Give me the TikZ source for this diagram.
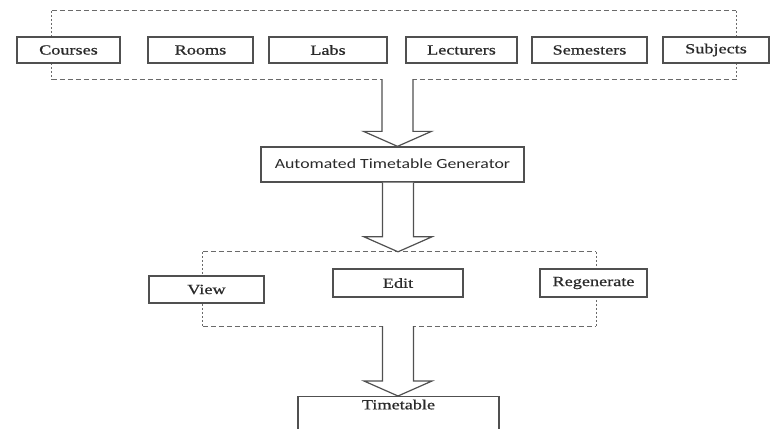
\documentclass[tikz,border=0pt]{standalone}
\usepackage{fontspec}
\setmainfont{Liberation Serif}[FakeBold=0.6]
\newfontfamily\sansf{Carlito}
\usetikzlibrary{calc}
\definecolor{edge}{HTML}{505050}
\definecolor{ink}{HTML}{2A2A2A}
\definecolor{dash}{HTML}{6A6A6A}
\newcommand\wide[1]{\scalebox{1.3}[1]{#1}}
\newcommand\blockarr[3]{%
  \draw[blockarrow] let \p1=(#1.south), \p2=(#2.north) in
    (\x2+#3pt-15.5pt,\y1) -- (\x2+#3pt-15.5pt,\y2+15pt) -- (\x2+#3pt-34pt,\y2+15pt)
    -- (\x2+#3pt,\y2) -- (\x2+#3pt+34pt,\y2+15pt) -- (\x2+#3pt+15.5pt,\y2+15pt)
    -- (\x2+#3pt+15.5pt,\y1);}
\tikzset{
  box/.style={draw=edge, line width=1.3pt, fill=white, inner sep=0pt, text=ink,
    font=\fontsize{14}{16}\selectfont},
  group/.style={draw=none, inner sep=0pt},
  dashh/.style={draw=dash, line width=1pt, dash pattern=on 5pt off 3pt},
  dashv/.style={draw=dash, line width=1pt, dash pattern=on 2pt off 2pt},
  blockarrow/.style={draw=edge, line width=1.2pt, fill=white, line join=miter},
}
\begin{document}
\begin{tikzpicture}[x=1pt,y=-1pt]
\useasboundingbox (0,0) rectangle (770,428);
\clip (0,0) rectangle (770,428);
\fill[white] (0,0) rectangle (770,428);
% groups
\node[group, minimum width=684pt, minimum height=68pt] (inputs) at (394,45) {};
\draw[dashh] (inputs.north west) -- (inputs.north east);
\draw[dashh] (inputs.south west) -- (inputs.south east);
\draw[dashv] (inputs.north west) -- (inputs.south west);
\draw[dashv] (inputs.north east) -- (inputs.south east);
\node[group, minimum width=393pt, minimum height=74pt] (options) at (399.5,289) {};
\draw[dashh] (options.north west) -- (options.north east);
\draw[dashh] (options.south west) -- (options.south east);
\draw[dashv] (options.north west) -- (options.south west);
\draw[dashv] (options.north east) -- (options.south east);
% input boxes
\node[box, minimum width=103pt, minimum height=26pt] (courses) at (68.5,50) {\wide{Courses}};
\node[box, minimum width=105pt, minimum height=26pt] (rooms) at (200.5,50) {\wide{Rooms}};
\node[box, minimum width=118pt, minimum height=26pt] (labs) at (328,50) {\wide{Labs}};
\node[box, minimum width=111pt, minimum height=26pt] (lecturers) at (461.5,50) {\wide{Lecturers}};
\node[box, minimum width=115pt, minimum height=26pt] (semesters) at (589.5,50) {\wide{Semesters}};
\node[box, minimum width=106pt, minimum height=26pt] (subjects) at (716,50) {\wide{Subjects}};
% generator
\node[box, minimum width=263pt, minimum height=35pt, font=\sansf\fontsize{14}{16}\selectfont] (atg) at (392.5,164.5) {\raisebox{2pt}{\scalebox{1.27}[1]{Automated Timetable Generator}}};
% options
\node[box, minimum width=115pt, minimum height=27pt] (view) at (206.5,289.5) {\wide{View}};
\node[box, minimum width=130pt, minimum height=28pt] (edit) at (398,283) {\wide{Edit}};
\node[box, minimum width=107pt, minimum height=28pt] (regen) at (593.5,283) {\wide{Regenerate}};
% output
\node[box, anchor=north, minimum width=201pt, inner ysep=3pt, text depth=28pt] (timetable) at (398.5,396) {\wide{Timetable}};
% arrows
\blockarr{inputs}{atg}{5}
\blockarr{atg}{options}{-1.5}
\blockarr{options}{timetable}{-0.5}
\end{tikzpicture}
\end{document}
